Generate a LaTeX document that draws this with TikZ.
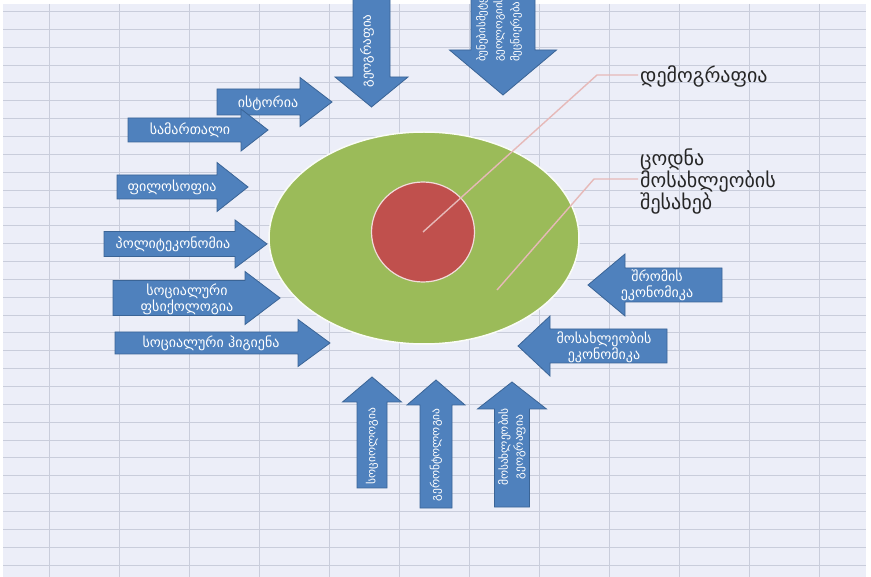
\documentclass[tikz,border=0pt]{standalone}
\usepackage{fontspec}
\newfontfamily\geo{DejaVu Sans}
\usepackage{xcolor}
\usetikzlibrary{
    shapes.geometric,
    positioning,
    calc
}

\definecolor{sheet}{HTML}{ECEEF8}
\definecolor{gridline}{HTML}{C9CDDB}
\definecolor{arrowblue}{HTML}{4F81BD}
\definecolor{arrowedge}{HTML}{3A6496}
\definecolor{olive}{HTML}{9BBB59}
\definecolor{brick}{HTML}{C0504D}
\definecolor{leader}{HTML}{E6B9B8}

% block arrow: tail centre, direction, length, shaft half width, head half width, head length
\newcommand{\blockarrow}[6]{%
  \begin{scope}[shift={#1},rotate=#2]
    \draw[arrowbody] (0,-#4) -- ({#3-#6},-#4) -- ({#3-#6},-#5) -- (#3,0)
      -- ({#3-#6},#5) -- ({#3-#6},#4) -- (0,#4) -- cycle;
  \end{scope}}

\begin{document}
\begin{tikzpicture}[x=1pt,y=-1pt,
    arrowbody/.style={fill=arrowblue,draw=arrowedge,line width=0.8pt,line join=miter},
    arrowtext/.style={text=white,font=\geo\fontsize{14}{16}\selectfont,align=center,inner sep=1pt},
    vtext/.style={arrowtext,rotate=90,font=\geo\fontsize{11.5}{15}\selectfont},
    leaderline/.style={leader,line width=1.4pt},
    labeltext/.style={text=black!85,font=\geo\fontsize{20}{22}\selectfont,align=left,anchor=west,inner sep=2pt}]
  \clip (0,0) rectangle (871,577);
  \fill[white] (0,0) rectangle (871,577);
  \fill[sheet] (3,4) rectangle (866,577);
  \foreach \x in {49,119,...,819} \draw[gridline,line width=0.8pt] (\x,4) -- (\x,577);
  \foreach \k in {-24,...,7} \draw[gridline,line width=0.8pt] (3,{440+17.86*\k}) -- (866,{440+17.86*\k});

  % centre
  \node[ellipse,fill=olive,draw=white!95!olive,line width=1.5pt,minimum width=310pt,minimum height=212pt] (knowledge) at (424,238) {};
  \node[ellipse,fill=brick,draw=white!80!brick,line width=1.2pt,minimum width=103pt,minimum height=100pt] (demo) at (423,232) {};
  \coordinate (kin) at (497,290);
  \node[labeltext] (demolabel) at (638,76) {დემოგრაფია};
  \node[labeltext] (knowlabel) at (638,182) {ცოდნა\\მოსახლეობის\\შესახებ};
  \draw[leaderline] (demo.center) -- (597,75) -- (demolabel.west |- 0,75);
  \draw[leaderline] (kin) -- (594,179) -- (knowlabel.west |- 0,179);

  % left side
  \blockarrow{(217,102)}{0}{115}{13}{24.5}{32}
  \blockarrow{(128,130)}{0}{140}{12}{21}{27}
  \blockarrow{(117,187)}{0}{131}{12}{24.5}{31}
  \blockarrow{(104,244)}{0}{163}{12.5}{24}{32}
  \blockarrow{(113,298)}{0}{167}{17.5}{26.5}{35}
  \blockarrow{(115,343)}{0}{215}{11}{23.5}{32}
  \node[arrowtext] (history) at (268,103) {ისტორია};
  \node[arrowtext] (law) at (190,130) {სამართალი};
  \node[arrowtext] (philosophy) at (172,187) {ფილოსოფია};
  \node[arrowtext] (poleconomy) at (173,244) {პოლიტეკონომია};
  \node[arrowtext] (socpsych) at (187,299) {სოციალური\\ფსიქოლოგია};
  \node[arrowtext] (hygiene) at (211,343) {სოციალური ჰიგიენა};

  % top
  \blockarrow{(371.5,-5)}{-90}{112}{18.5}{36.5}{30}
  \blockarrow{(503,-5)}{-90}{100}{32}{53.5}{45}
  \node[vtext,font=\geo\fontsize{13}{15}\selectfont] (geography) at (367,51) {გეოგრაფია};
  \node[vtext,anchor=west,align=left,font=\geo\fontsize{11}{17}\selectfont] (natsci) at (499,63) {ბუნებისმეტყველება\\გეოლოგიის\\მეცნიერება};

  % bottom
  \blockarrow{(372,488)}{90}{111}{15}{29.5}{25}
  \blockarrow{(436,508)}{90}{128}{16}{29}{25}
  \blockarrow{(512,507)}{90}{125}{17.5}{34.5}{27}
  \node[vtext] (sociology) at (372,446) {სოციოლოგია};
  \node[vtext] (gerontology) at (436,455) {გერონტოლოგია};
  \node[vtext] (popgeo) at (512,447) {მოსახლეობის\\გეოგრაფია};

  % right side
  \blockarrow{(722,285)}{180}{134}{17}{31}{37}
  \blockarrow{(667,346)}{180}{149}{17}{30}{32}
  \node[arrowtext] (labour) at (657,285) {შრომის\\ეკონომიკა};
  \node[arrowtext] (popecon) at (604,347) {მოსახლეობის\\ეკონომიკა};
\end{tikzpicture}
\end{document}
